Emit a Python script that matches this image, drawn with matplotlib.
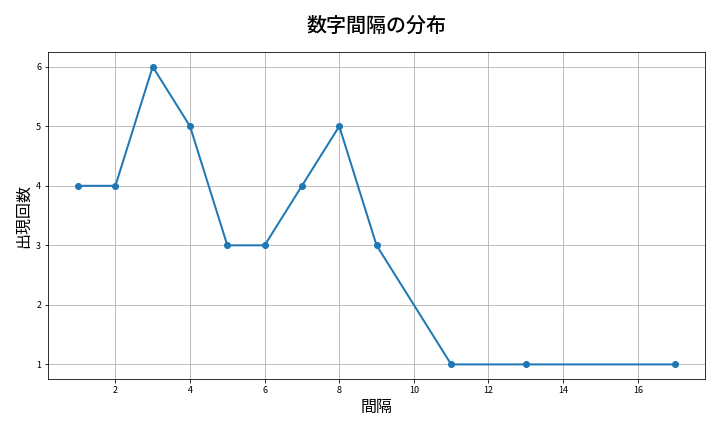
import matplotlib
matplotlib.use("Agg")
import matplotlib.pyplot as plt

plt.rcParams['font.family'] = ['Noto Sans CJK JP', 'DejaVu Sans']

# 間隔ごとの出現回数
intervals = [1, 2, 3, 4, 5, 6, 7, 8, 9, 11, 13, 17]
counts = [4, 4, 6, 5, 3, 3, 4, 5, 3, 1, 1, 1]

fig, ax = plt.subplots(figsize=(10, 6), dpi=72)
ax.plot(intervals, counts, marker='o', color='#1f77b4', linewidth=2, markersize=6)

ax.set_title('数字間隔の分布', fontsize=20, fontweight='medium', pad=20)
ax.set_xlabel('間隔', fontsize=16)
ax.set_ylabel('出現回数', fontsize=16)
ax.tick_params(labelsize=9)
ax.grid(True)

fig.subplots_adjust(left=0.067, right=0.979, top=0.88, bottom=0.122)
fig.savefig('out.png', dpi=72)
